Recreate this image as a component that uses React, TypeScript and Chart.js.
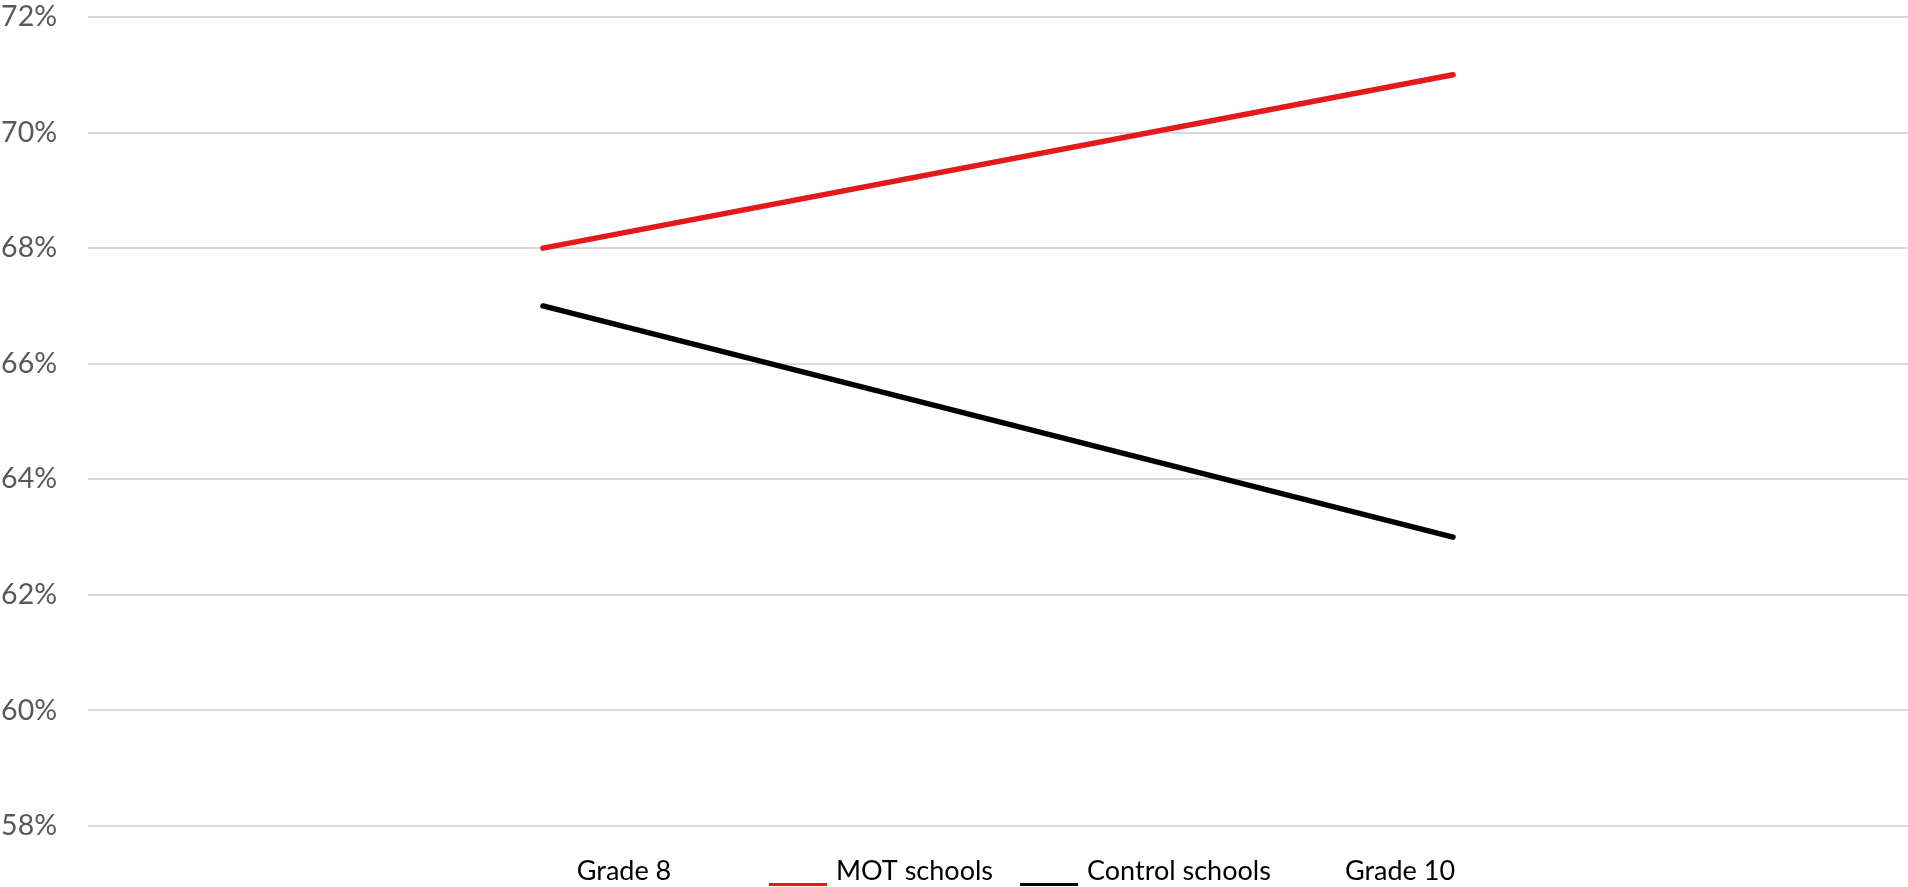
import React, { useEffect, useRef } from "react";
import { Chart, registerables } from "chart.js";

Chart.register(...registerables);

// Categories and series (percent of students)
const categories = ["Grade 8", "Grade 10"];
const motSchools = [68, 71];
const controlSchools = [67, 63];
const seriesNames = ["MOT schools", "Control schools"];
const seriesColors = ["#e3191c", "#000000"];

// Value axis range
const yMin = 58;
const yMax = 72;
const yStep = 2;

const WIDTH = 1908;
const HEIGHT = 887;

// Bottom row: category captions and inline legend keys, drawn under the plot
const bottomRow = {
  id: "bottomRow",
  afterDraw(chart: any) {
    const { ctx, chartArea } = chart;
    const baseline = chartArea.bottom + 54;
    ctx.save();
    ctx.font = "27px Lato";
    ctx.fillStyle = "#000000";
    ctx.textBaseline = "alphabetic";

    // category captions
    ctx.textAlign = "center";
    ctx.fillText(categories[0], 624, baseline);
    ctx.fillText(categories[1], 1400, baseline);

    // legend keys: an underline followed by the series name
    const starts = [769, 1020];
    ctx.textAlign = "left";
    chart.data.datasets.forEach((ds: any, i: number) => {
      const x = starts[i];
      ctx.fillStyle = ds.borderColor;
      ctx.fillRect(x, baseline + 3, 58, 3);
      ctx.fillStyle = "#000000";
      ctx.fillText(ds.label, x + 67, baseline);
    });
    ctx.restore();
  },
};

export default function App() {
  const canvasRef = useRef<HTMLCanvasElement | null>(null);

  useEffect(() => {
    document.body.style.margin = "0";
    const canvas = canvasRef.current;
    if (!canvas) return;
    const chart = new Chart(canvas, {
      type: "line",
      data: {
        labels: categories,
        datasets: [
          {
            label: seriesNames[0],
            data: motSchools,
            borderColor: seriesColors[0],
            backgroundColor: seriesColors[0],
            borderWidth: 5.5,
            pointRadius: 0,
            borderCapStyle: "round",
            tension: 0,
          },
          {
            label: seriesNames[1],
            data: controlSchools,
            borderColor: seriesColors[1],
            backgroundColor: seriesColors[1],
            borderWidth: 5.5,
            pointRadius: 0,
            borderCapStyle: "round",
            tension: 0,
          },
        ],
      },
      options: {
        responsive: false,
        animation: false,
        layout: { padding: { top: 0, bottom: 61, left: 0, right: 0 } },
        plugins: {
          legend: { display: false },
          tooltip: { enabled: false },
        },
        scales: {
          x: {
            display: false,
            offset: true,
          },
          y: {
            min: yMin,
            max: yMax,
            afterFit(scale: any) {
              scale.width = 88;
              scale.paddingTop = 17;
              scale.paddingBottom = 0;
            },
            border: { display: false },
            grid: {
              color: "#d9d9d9",
              lineWidth: 2,
              drawTicks: false,
            },
            ticks: {
              stepSize: yStep,
              padding: 31,
              color: "#595959",
              font: { family: "Lato", size: 28.5 },
              callback: (v: any) => `${v}%`,
            },
          },
        },
      },
      plugins: [bottomRow],
    });
    return () => chart.destroy();
  }, []);

  return (
    <div style={{ width: WIDTH, height: HEIGHT, background: "#ffffff" }}>
      <canvas ref={canvasRef} width={WIDTH} height={HEIGHT} />
    </div>
  );
}
